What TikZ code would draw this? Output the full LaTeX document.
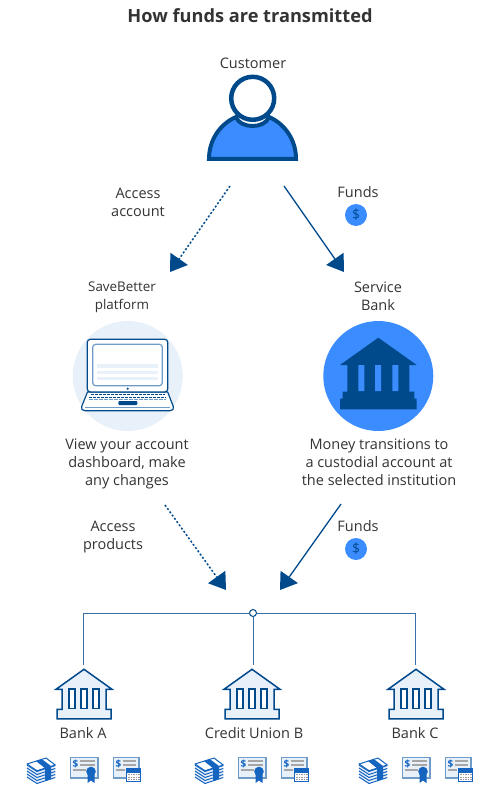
\documentclass[tikz,border=0pt]{standalone}
\usepackage{fontspec}
\setmainfont{Open Sans}
\usetikzlibrary{arrows.meta}
\definecolor{navy}{HTML}{004A8C}
\definecolor{brightblue}{HTML}{3B8CFF}
\definecolor{paleblue}{HTML}{E8F0F9}
\definecolor{midblue}{HTML}{6F9BC8}
\definecolor{linkblue}{HTML}{3A6FA8}
\definecolor{ink}{HTML}{333333}
\definecolor{bandblue}{HTML}{1565C0}
\tikzset{
  label text/.style={text=ink,font=\fontsize{14.5}{18}\selectfont,align=center,inner sep=0pt},
  small label/.style={label text,font=\fontsize{13.4}{18}\selectfont},
  title text/.style={text=ink,font=\fontsize{18.2}{20}\selectfont\bfseries,inner sep=0pt},
  flow/.style={draw=navy,line width=1.3pt,-{Triangle[length=16pt,width=21pt,fill=navy]}},
  flowdot/.style={flow,line width=1.5pt,dash pattern=on 2pt off 2pt},
  bus/.style={draw=linkblue,line width=1pt},
  coin/.style={circle,fill=brightblue,minimum size=22pt,inner sep=0pt,text=navy,font=\fontsize{14}{14}\selectfont},
  hubdot/.style={circle,draw=navy,fill=white,line width=1pt,minimum size=7pt,inner sep=0pt},
  smallbank/.pic={
    \path[draw=navy,fill=paleblue,line width=1.5pt,line join=miter]
      (0,-22.5) -- (28,-2.5) -- (22,-2.5) -- (22,17.5) -- (27,17.5) -- (27,27) -- (-27,27)
      -- (-27,17.5) -- (-22,17.5) -- (-22,-2.5) -- (-28,-2.5) -- cycle;
    \foreach \cx in {-12,0,12}
      \draw[navy,fill=white,line width=1.5pt] (\cx-3,-3) rectangle (\cx+3,16.5);
  },
  moneyicon/.pic={
    \fill[paleblue] (27,764) -- (46,758) -- (55.3,765) -- (55.3,777) -- (37,783.3) -- (27,777) -- cycle;
    \foreach \dy in {0,3,6,9,12}{
      \draw[bandblue,line width=1pt] (27,765+\dy) -- (37,771.5+\dy) -- (55.3,765.5+\dy);
    }
    \path[draw=bandblue,fill=white,line width=1pt,line join=round] (27,764) -- (46,758) -- (55.3,765) -- (37,770.7) -- cycle;
    \fill[bandblue] (36,761) -- (42,759.2) -- (51,766) -- (45,768.2) -- cycle;
    \fill[bandblue] (45,768.2) -- (51,766) -- (51,778.7) -- (45,781) -- cycle;
  },
  certicon/.pic={
    \path[draw=midblue,fill=paleblue,line width=1.6pt] (70.5,757.5) rectangle (98,778);
    \node[text=bandblue,font=\fontsize{10}{10}\selectfont\bfseries,inner sep=0pt] at (75.5,763.5) {\$};
    \draw[gray!70,line width=1.2pt] (80,761) -- (95,761) (80,765) -- (95,765) (73,770) -- (86,770);
    \fill[bandblue] (87.5,775) -- (87.5,783) -- (91,780.5) -- (94.5,783) -- (94.5,775) -- cycle;
    \fill[bandblue] (91,771.5) circle (4.8pt);
  },
  calicon/.pic={
    \path[draw=midblue,fill=paleblue,line width=1.6pt] (113.5,757.5) rectangle (139,778);
    \node[text=bandblue,font=\fontsize{10}{10}\selectfont\bfseries,inner sep=0pt] at (118.5,763.5) {\$};
    \draw[gray!70,line width=1.2pt] (123,761) -- (136,761) (123,765) -- (136,765) (116,770) -- (125,770);
    \path[draw=bandblue,fill=white,line width=1pt] (126.5,768.5) rectangle (140.5,781.5);
    \fill[bandblue] (126.5,768.5) rectangle (140.5,772.5);
    \foreach \gy in {774.5,777,779.5}
      \draw[gray!80,line width=1pt,dash pattern=on 1.5pt off 1pt] (128,\gy) -- (139.5,\gy);
  }
}
\begin{document}
\begin{tikzpicture}[x=1pt,y=-1pt]
\useasboundingbox (0,0) rectangle (500,805);
% titles and labels
\node[title text] (title) at (250,15.5) {How funds are transmitted};
\node[label text] (customer) at (253,63) {Customer};
\node[label text] (access) at (138,202) {Access\\account};
\node[label text] (funds1) at (358,192.5) {Funds};
\node[coin] (coin1) at (356,215) {\$};
\node[small label] (savebetter) at (122,297.5) {SaveBetter\\platform};
\node[label text] (service) at (378,296.5) {Service\\Bank};
\node[label text] (view) at (127,464) {View your account\\dashboard, make\\any changes};
\node[label text] (money) at (379,462.5) {Money transitions to\\a custodial account at\\the selected institution};
\node[label text] (products) at (113,537.5) {Access\\products};
\node[label text] (funds2) at (358,526.5) {Funds};
\node[coin] (coin2) at (356,549) {\$};
% customer icon
\path[draw=navy,fill=brightblue,line width=4pt,line join=miter]
  (209,159) .. controls (209,140) and (220,124) .. (236,117)
  .. controls (240,129) and (265,129) .. (269,117)
  .. controls (285,124) and (296,140) .. (296,159) -- cycle;
\node[circle,draw=navy,fill=white,line width=4.5pt,minimum size=43pt,inner sep=0pt] (head) at (252.7,98.3) {};
% platform icon
\fill[paleblue] (127.7,376) circle (55pt);
\path[draw=navy,fill=white,line width=1.2pt,line join=round]
  (87.5,392) -- (81.7,406.5) .. controls (81,409) and (82,410.7) .. (85,410.7) -- (170,410.7)
  .. controls (173,410.7) and (174,409) .. (173.3,406.5) -- (167.7,392) -- cycle;
\path[draw=navy,fill=white,line width=1.2pt,rounded corners=3pt] (87.3,339.3) rectangle (167.7,392);
\path[draw=midblue,fill=white,line width=1.2pt,rounded corners=3pt] (92.7,344.3) rectangle (162.3,385.7);
\draw[paleblue,line width=3.2pt] (97,366) -- (158,366) (97,372.5) -- (158,372.5) (97,378.7) -- (158,378.7);
\fill[navy] (127.7,388.7) circle (1.2pt);
\draw[navy,line width=0.9pt,dash pattern=on 3pt off 1pt] (91,394.5) -- (165,394.5) (89,397) -- (166,397);
\draw[midblue,line width=1pt,dash pattern=on 4pt off 1pt] (89,399.5) -- (166,399.5);
\fill[navy,rounded corners=1pt] (118.3,401) rectangle (137.3,405);
\draw[midblue,line width=0.9pt] (85,407.7) -- (170,407.7);
% bank icon
\fill[brightblue] (378.3,376) circle (55pt);
\fill[navy] (378.3,337.7) -- (416.7,365) -- (409.3,365) -- (409.3,391.7) -- (414.3,391.7) -- (414.3,398.7)
  -- (416.7,398.7) -- (416.7,409.3) -- (340,409.3) -- (340,398.7) -- (342.7,398.7) -- (342.7,391.7)
  -- (347.3,391.7) -- (347.3,365) -- (340,365) -- cycle;
\fill[brightblue] (358.3,365) rectangle (364.3,391) (375,365) rectangle (381,391) (392.3,365) rectangle (398.3,391);
% arrows
\coordinate (a1s) at (230,186); \coordinate (a1e) at (170,272);
\coordinate (a2s) at (284,186); \coordinate (a2e) at (344,272);
\coordinate (a3s) at (165,505); \coordinate (a3e) at (226,590);
\coordinate (a4s) at (341,504); \coordinate (a4e) at (280,590);
\draw[flowdot] (a1s) -- (a1e);
\draw[flow] (a2s) -- (a2e);
\draw[flowdot] (a3s) -- (a3e);
\draw[flow] (a4s) -- (a4e);
% bus
\node[hubdot] (hub) at (253,613) {};
\coordinate (bankA) at (84,691.8);
\coordinate (bankB) at (252,691.8);
\coordinate (bankC) at (416,691.8);
\coordinate (stubA) at (83,665);
\coordinate (stubB) at (253,665);
\coordinate (stubC) at (415,665);
\draw[bus] (hub.west) -| (stubA);
\draw[bus] (hub.east) -| (stubC);
\draw[bus] (hub.south) -- (stubB);
% banks
\pic at (bankA) {smallbank};
\pic at (bankB) {smallbank};
\pic at (bankC) {smallbank};
\node[label text] (bankAlabel) at (83,733) {Bank A};
\node[label text] (bankBlabel) at (254,733) {Credit Union B};
\node[label text] (bankClabel) at (415,733) {Bank C};
% product icons
\foreach \ox in {0,168,332}{
  \pic at (\ox,0) {moneyicon};
  \pic at (\ox,0) {certicon};
  \pic at (\ox,0) {calicon};
}
\end{tikzpicture}
\end{document}
